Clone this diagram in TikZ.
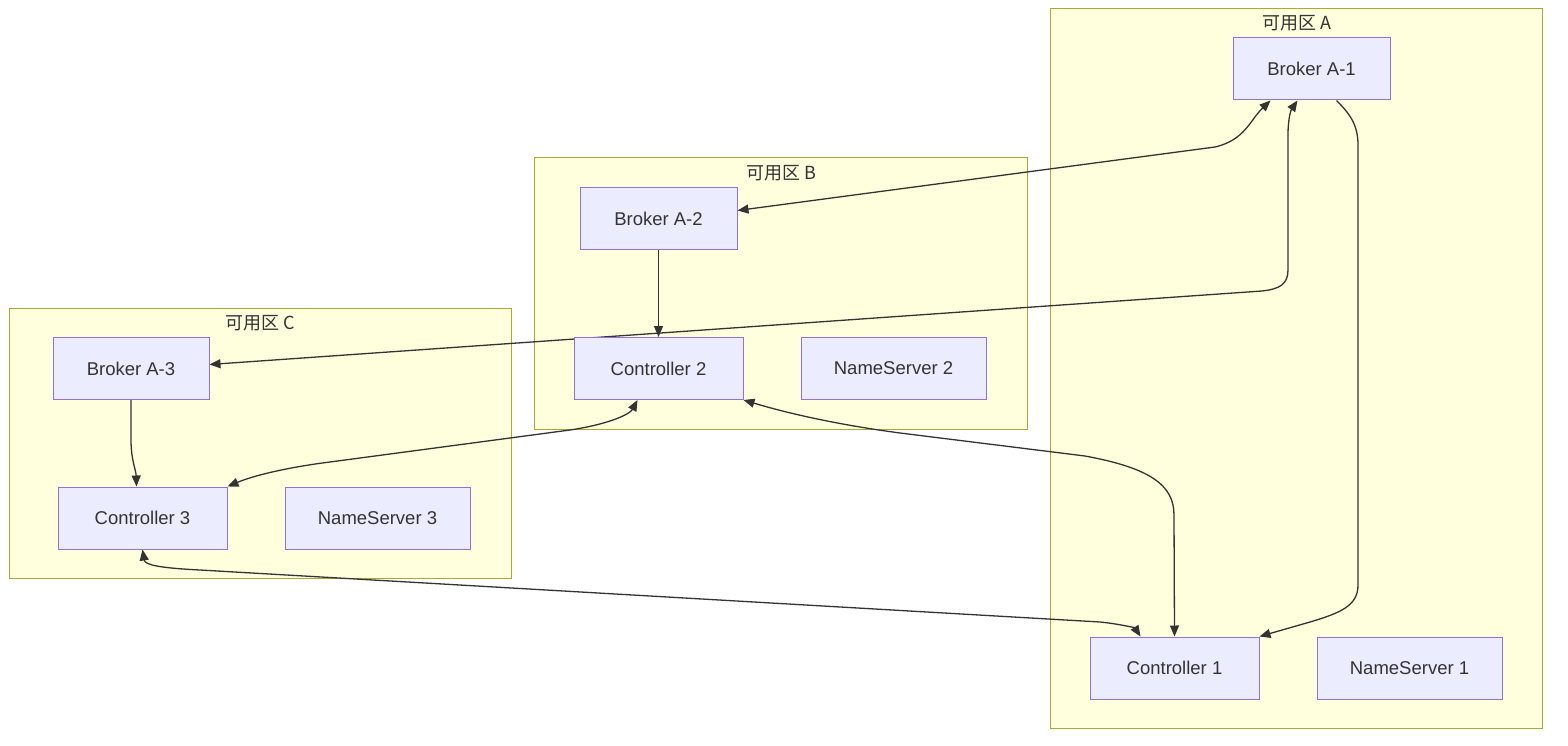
\documentclass[tikz,border=0pt]{standalone}
\usepackage{fontspec}
\setmainfont{Liberation Sans}
\newfontfamily\cjkfont{Noto Sans CJK SC}
\usetikzlibrary{arrows.meta,calc}
\definecolor{clfill}{HTML}{FFFFDE}
\definecolor{cldraw}{HTML}{AAAA33}
\definecolor{ndfill}{HTML}{ECECFF}
\definecolor{nddraw}{HTML}{9370DB}
\definecolor{edgecol}{HTML}{333333}
\definecolor{txtcol}{HTML}{333333}
\pgfdeclarelayer{clusterlayer}
\pgfdeclarelayer{edgelayer}
\pgfsetlayers{clusterlayer,edgelayer,main}
\tikzset{
  cluster/.style={draw=cldraw, fill=clfill, line width=1pt, inner sep=0pt, rectangle},
  cltitle/.style={text=txtcol, font=\fontsize{18}{20}\selectfont\cjkfont, inner sep=0pt},
  box/.style={draw=nddraw, fill=ndfill, line width=1pt, rectangle, minimum height=62pt, inner sep=0pt, text=txtcol, font=\fontsize{18.5}{20}\selectfont},
  link/.style={draw=edgecol, line width=1.3pt, -{Triangle[length=11pt,width=9pt]}},
  bilink/.style={draw=edgecol, line width=1.3pt, {Triangle[length=11pt,width=9pt]}-{Triangle[length=11pt,width=9pt]}}
}
\begin{document}
\begin{tikzpicture}[x=1pt,y=-1pt]
\useasboundingbox (0,0) rectangle (1568,746);
% clusters
\begin{pgfonlayer}{clusterlayer}
\node[cluster, minimum width=492pt, minimum height=719pt] (zoneA) at (1296,368.5) {};
\node[cluster, minimum width=493pt, minimum height=271pt] (zoneB) at (780.5,293.5) {};
\node[cluster, minimum width=502pt, minimum height=270pt] (zoneC) at (260,443) {};
\end{pgfonlayer}
\node[cltitle] (tA) at (1297,23) {可用区 A};
\node[cltitle] (tB) at (781,173) {可用区 B};
\node[cltitle] (tC) at (260,323) {可用区 C};
% nodes
\node[box, minimum width=157pt] (b1) at (1311.5,69) {Broker A-1};
\node[box, minimum width=157pt] (b2) at (658.5,218.5) {Broker A-2};
\node[box, minimum width=169pt] (c2) at (658.5,368.5) {Controller 2};
\node[box, minimum width=185pt] (n2) at (893.5,368.5) {NameServer 2};
\node[box, minimum width=156pt] (b3) at (131,368.5) {Broker A-3};
\node[box, minimum width=169pt] (c3) at (142.5,518) {Controller 3};
\node[box, minimum width=185pt] (n3) at (377.5,518) {NameServer 3};
\node[box, minimum width=169pt] (c1) at (1174.5,668) {Controller 1};
\node[box, minimum width=185pt] (n1) at (1409.5,668) {NameServer 1};
% edges
\begin{pgfonlayer}{edgelayer}
% Broker A-1 <-> Broker A-2
\draw[bilink] ([xshift=-41pt]b1.south) .. controls (1250,120) and (1245,140) .. (1215,147) -- ([yshift=8pt]b2.east);
% Broker A-1 -> Controller 1
\draw[link] ([xshift=25pt]b1.south) .. controls (1350,114) and (1358,125) .. (1358,145) -- (1358,585) .. controls (1358,606) and (1340,613) .. (1310,622) -- (c1.north east);
% Broker A-2 -> Controller 2
\draw[link] (b2.south) -- (c2.north);
% Broker A-1 <-> Broker A-3
\draw[bilink] ([xshift=-14pt]b1.south) .. controls (1291,110) and (1288,118) .. (1288,135) -- (1288,270) .. controls (1288,284) and (1280,289) .. (1262,291) -- ([yshift=4pt]b3.east);
% Controller 2 <-> Controller 3
\draw[bilink] ([xshift=-21pt]c2.south) .. controls (630,414) and (610,424) .. (570,430) -- (330,462) .. controls (290,467) and (255,475) .. (c3.north east);
% Controller 2 <-> Controller 1
\draw[bilink] (c2.south east) .. controls (790,414) and (840,425) .. (900,433) -- (1085,456) .. controls (1150,468) and (1174,485) .. (1174,515) -- (c1.north);
% Broker A-3 -> Controller 3
\draw[link] (b3.south) -- (131,440) .. controls (131,460) and (136,470) .. ([xshift=-6pt]c3.north);
% Controller 3 <-> Controller 1
\draw[bilink] (c3.south) .. controls (145,565) and (160,568) .. (200,570) -- (1100,622) .. controls (1120,624) and (1135,628) .. ([xshift=-34pt]c1.north);
\end{pgfonlayer}
\end{tikzpicture}
\end{document}
